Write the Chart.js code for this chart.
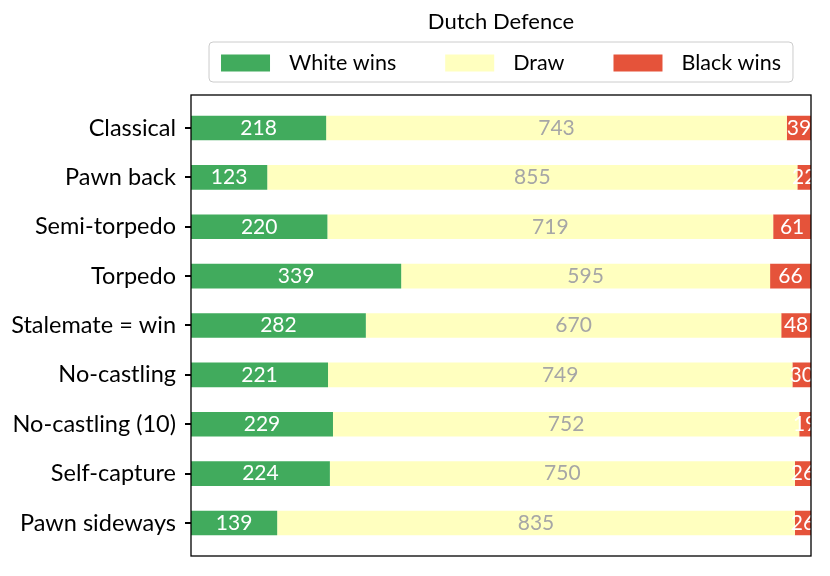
<!DOCTYPE html>
<html>
<head>
<meta charset="utf-8">
<script src="https://cdn.jsdelivr.net/npm/chart.js@4/dist/chart.umd.min.js"></script>
<style>
  html, body { margin: 0; padding: 0; background: #fff; }
</style>
</head>
<body>
<canvas id="chart" width="830" height="576"></canvas>
<script>
const FONT = "Lato, 'DejaVu Sans', sans-serif";

const categories = [
  "Classical", "Pawn back", "Semi-torpedo", "Torpedo", "Stalemate = win",
  "No-castling", "No-castling (10)", "Self-capture", "Pawn sideways",
];
const whiteWins = [218, 123, 220, 339, 282, 221, 229, 224, 139];
const draws = [743, 855, 719, 595, 670, 749, 752, 750, 835];
const blackWins = [39, 22, 61, 66, 48, 30, 19, 26, 26];

const seriesNames = ["White wins", "Draw", "Black wins"];
const seriesColors = ["#41ab5d", "#ffffbf", "#e5533a"];
const labelColors = ["#ffffff", "#a6a6a6", "#ffffff"];

// extra space between the outer frame and the first/last bar row
const FRAME_PAD = 8.3;

const framePlugin = {
  id: "frame",
  afterDatasetsDraw(chart) {
    const { ctx, chartArea: a } = chart;
    const top = a.top - FRAME_PAD;
    const bottom = a.bottom + FRAME_PAD;

    // value labels, clipped to the frame
    ctx.save();
    ctx.beginPath();
    ctx.rect(a.left, top, a.right - a.left, bottom - top);
    ctx.clip();
    ctx.font = `21px ${FONT}`;
    ctx.textAlign = "center";
    ctx.textBaseline = "middle";
    chart.data.datasets.forEach((ds, i) => {
      const meta = chart.getDatasetMeta(i);
      ctx.fillStyle = labelColors[i];
      meta.data.forEach((bar, j) => {
        const cx = (bar.x + bar.base) / 2;
        ctx.fillText(String(ds.data[j]), cx, bar.y);
      });
    });
    ctx.restore();
  },
  afterDraw(chart) {
    const { ctx, chartArea: a } = chart;
    const mid = (a.left + a.right) / 2;
    const top = a.top - FRAME_PAD;
    const bottom = a.bottom + FRAME_PAD;

    // axes frame and y tick marks
    ctx.save();
    ctx.strokeStyle = "#000";
    ctx.lineWidth = 1.3;
    ctx.strokeRect(a.left, top, a.right - a.left, bottom - top);
    ctx.fillStyle = "#000";
    chart.data.labels.forEach((lbl, i) => {
      const y = chart.scales.y.getPixelForValue(i);
      ctx.fillRect(a.left - 6, Math.round(y) - 1, 6, 2);
    });
    ctx.restore();

    ctx.save();
    ctx.fillStyle = "#000";
    ctx.font = `22px ${FONT}`;
    ctx.textAlign = "center";
    ctx.textBaseline = "middle";
    ctx.fillText("Dutch Defence", mid, 22);

    // legend
    ctx.font = `21.5px ${FONT}`;
    const boxW = 49, boxH = 17, gap = 19, spacing = 49, pad = 12;
    const widths = seriesNames.map((n) => ctx.measureText(n).width);
    let total = 0;
    widths.forEach((w, i) => {
      total += boxW + gap + w + (i < widths.length - 1 ? spacing : 0);
    });
    const lx = mid - total / 2 - pad;
    const ly = 42, lh = 40;
    ctx.strokeStyle = "#cccccc";
    ctx.lineWidth = 1;
    ctx.beginPath();
    ctx.roundRect(lx, ly, total + pad * 2, lh, 4);
    ctx.stroke();

    let x = lx + pad;
    const cy = ly + lh / 2 + 1;
    ctx.textAlign = "left";
    seriesNames.forEach((n, i) => {
      ctx.fillStyle = seriesColors[i];
      ctx.fillRect(x, cy - boxH / 2, boxW, boxH);
      ctx.fillStyle = "#000";
      ctx.fillText(n, x + boxW + gap, cy);
      x += boxW + gap + widths[i] + spacing;
    });
    ctx.restore();
  },
};

new Chart(document.getElementById("chart"), {
  type: "bar",
  data: {
    labels: categories,
    datasets: [whiteWins, draws, blackWins].map((d, i) => ({
      label: seriesNames[i],
      data: d,
      backgroundColor: seriesColors[i],
      borderWidth: 0,
      barPercentage: 0.5,
      categoryPercentage: 1,
    })),
  },
  options: {
    indexAxis: "y",
    responsive: false,
    animation: false,
    devicePixelRatio: 1,
    layout: { padding: { top: 103.3, right: 19, bottom: 28.3, left: 0 } },
    plugins: {
      legend: { display: false },
      title: { display: false },
      tooltip: { enabled: false },
    },
    scales: {
      x: {
        stacked: true,
        min: 0,
        max: 1000,
        display: false,
      },
      y: {
        stacked: true,
        afterFit(scale) {
          scale.width = 191;
        },
        border: { display: false },
        grid: { display: false },
        ticks: {
          color: "#000",
          padding: 7,
          font: { family: FONT, size: 23.5 },
        },
      },
    },
  },
  plugins: [framePlugin],
});
</script>
</body>
</html>
